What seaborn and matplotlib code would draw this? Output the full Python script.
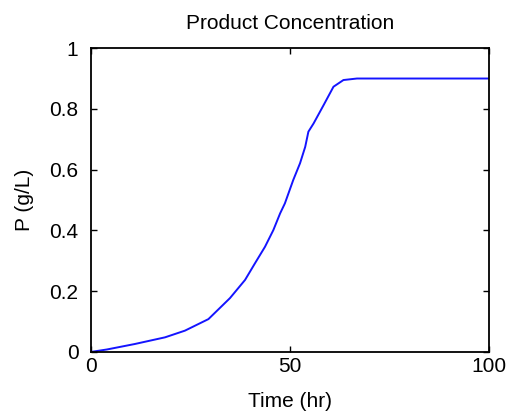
import matplotlib
matplotlib.use("Agg")
import matplotlib.pyplot as plt
import seaborn as sns
import pandas as pd

# Product concentration over the fermentation run
time_hr = [0, 4, 11, 18.6, 23.6, 29.5, 34.9, 38.7, 41.2, 43.7, 45.8, 47.5,
           48.7, 50.8, 52.5, 53.8, 54.6, 55.9, 58.4, 60.9, 63.4, 66.8, 100]
product_gL = [0.0, 0.008, 0.026, 0.048, 0.07, 0.108, 0.177, 0.237, 0.292,
              0.346, 0.401, 0.456, 0.489, 0.566, 0.621, 0.675, 0.725, 0.752,
              0.812, 0.873, 0.895, 0.9, 0.9]

x_ticks = [0, 50, 100]
y_ticks = [0, 0.2, 0.4, 0.6, 0.8, 1]
y_tick_labels = ["0", "0.2", "0.4", "0.6", "0.8", "1"]

df = pd.DataFrame({"Time (hr)": time_hr, "P (g/L)": product_gL})

sns.set_style("ticks")
plt.rcParams["font.family"] = ["Liberation Sans", "DejaVu Sans"]
plt.rcParams["text.color"] = "black"
plt.rcParams["axes.labelcolor"] = "black"

fig = plt.figure(figsize=(5.08, 4.15), dpi=100)
ax = fig.add_axes([0.179, 0.152, 0.784, 0.732])

sns.lineplot(data=df, x="Time (hr)", y="P (g/L)", ax=ax, color="#1414ff",
             linewidth=1.4)

ax.set_xlim(0, 100)
ax.set_ylim(0, 1)
ax.set_xticks(x_ticks)
ax.set_xticklabels([str(t) for t in x_ticks])
ax.set_yticks(y_ticks)
ax.set_yticklabels(y_tick_labels)

for side in ["left", "right", "top", "bottom"]:
    ax.spines[side].set_visible(True)
    ax.spines[side].set_color("black")
    ax.spines[side].set_linewidth(1.3)

ax.tick_params(axis="both", direction="in", length=4, width=1,
               top=True, right=True, labelsize=15, colors="black")
ax.tick_params(axis="x", pad=4)
ax.tick_params(axis="y", pad=9)

ax.set_title("Product Concentration", fontsize=15, pad=14, color="black")
ax.set_xlabel("Time (hr)", fontsize=15, labelpad=11, color="black")
ax.set_ylabel("P (g/L)", fontsize=15, labelpad=11, color="black")

fig.savefig("out.png", dpi=100, facecolor="white")
